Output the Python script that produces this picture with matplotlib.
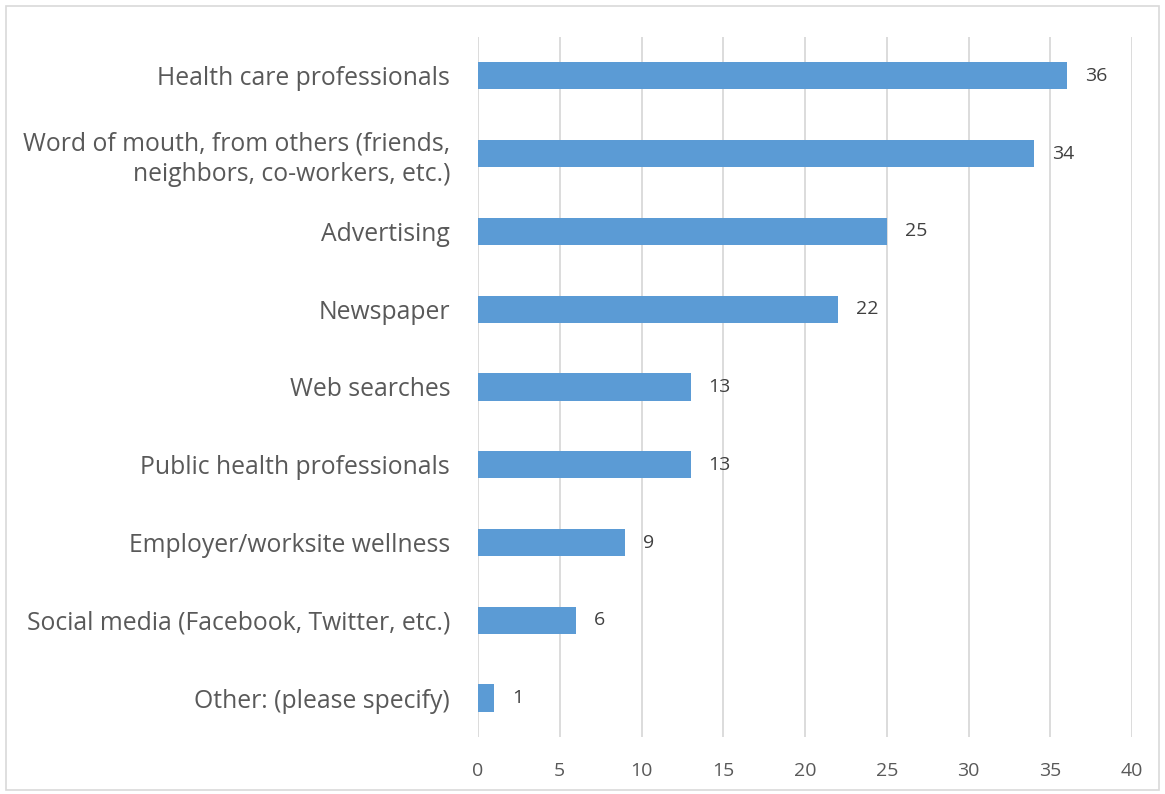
import matplotlib
matplotlib.use("Agg")
import matplotlib.pyplot as plt
from matplotlib.patches import Rectangle

# data (top to bottom as shown)
categories = [
    "Health care professionals",
    "Word of mouth, from others (friends,\nneighbors, co-workers, etc.)",
    "Advertising",
    "Newspaper",
    "Web searches",
    "Public health professionals",
    "Employer/worksite wellness",
    "Social media (Facebook, Twitter, etc.)",
    "Other: (please specify)",
]
values = [36, 34, 25, 22, 13, 13, 9, 6, 1]
xticks = [0, 5, 10, 15, 20, 25, 30, 35, 40]

plt.rcParams['font.family'] = ['Open Sans', 'DejaVu Sans']

fig = plt.figure(figsize=(11.65, 7.94), dpi=100)
ax = fig.add_axes([0.4103, 0.0718, 0.5614, 0.8816])

ypos = list(range(len(categories)))[::-1]
ax.barh(ypos, values, height=0.35, color='#5B9BD5', zorder=3)
for y, v in zip(ypos, values):
    ax.text(v + 1.1, y, str(v), va='center', ha='left', fontsize=14, color='#404040')

ax.set_xlim(0, 40)
ax.set_ylim(-0.5, len(categories) - 0.5)
ax.set_xticks(xticks)
ax.set_xticklabels([str(t) for t in xticks], fontsize=14, color='#595959')
ax.set_yticks(ypos)
ax.set_yticklabels(categories, fontsize=17.8, color='#595959', linespacing=1.3)
ax.tick_params(axis='both', length=0)
ax.tick_params(axis='x', pad=18)
ax.tick_params(axis='y', pad=20)
ax.xaxis.grid(True, color='#D9D9D9', linewidth=1.3, zorder=0)
for s in ax.spines.values():
    s.set_visible(False)

# outer chart border
fig.patches.append(Rectangle((0.005, 0.005), 0.99, 0.988, transform=fig.transFigure,
                             fill=False, edgecolor='#D9D9D9', linewidth=1.2))

fig.savefig('out.png', dpi=100)
